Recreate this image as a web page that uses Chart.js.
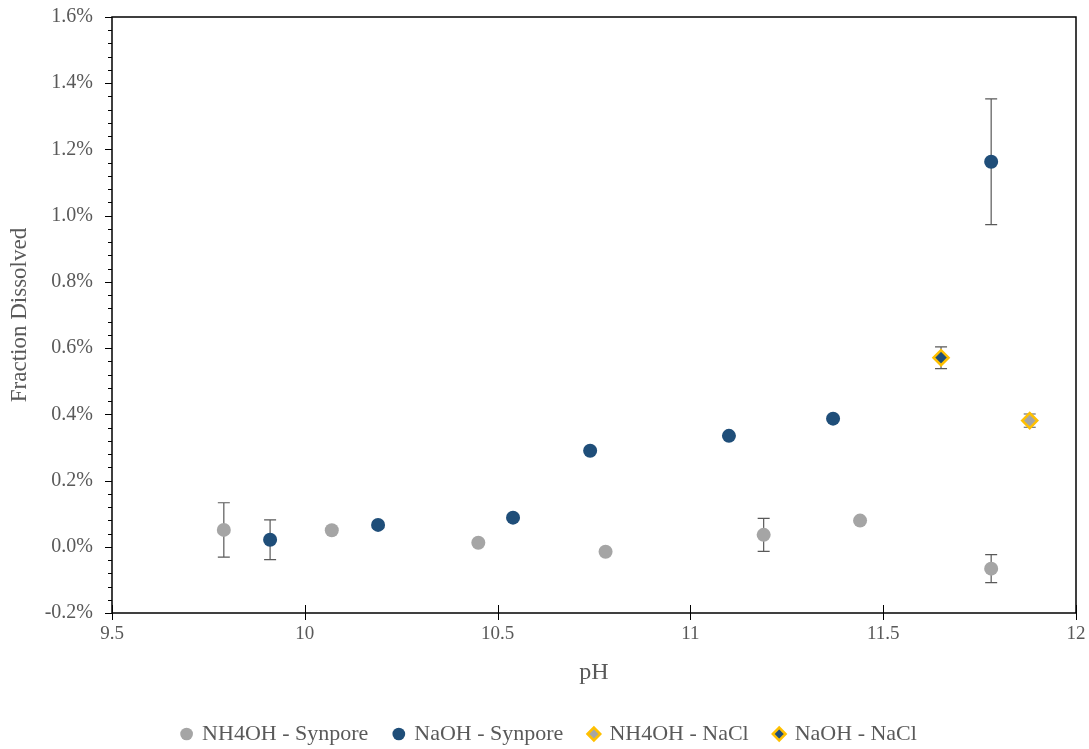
<!DOCTYPE html>
<html>
<head>
<meta charset="utf-8">
<script src="https://cdn.jsdelivr.net/npm/chart.js@4.4.1/dist/chart.umd.min.js"></script>
<style>
  html, body { margin: 0; padding: 0; background: #ffffff; }
  #wrap { width: 1089px; height: 749px; }
</style>
</head>
<body>
<div id="wrap"><canvas id="c" width="1089" height="749"></canvas></div>
<script>
// pH and fraction dissolved (in %) with ± error, per solution / substrate
const nh4ohSynporePH   = [9.79, 10.07, 10.45, 10.78, 11.19, 11.44, 11.78];
const nh4ohSynporeVal  = [0.051, 0.050, 0.012, -0.015, 0.036, 0.079, -0.066];
const nh4ohSynporeErr  = [0.082, 0, 0, 0, 0.050, 0.006, 0.042];

const naohSynporePH    = [9.91, 10.19, 10.54, 10.74, 11.10, 11.37, 11.78];
const naohSynporeVal   = [0.021, 0.066, 0.088, 0.290, 0.335, 0.387, 1.163];
const naohSynporeErr   = [0.060, 0.008, 0.008, 0.005, 0.005, 0.003, 0.190];

const nh4ohNaclPH      = [11.88];
const nh4ohNaclVal     = [0.381];
const nh4ohNaclErr     = [0.020];

const naohNaclPH       = [11.65];
const naohNaclVal      = [0.571];
const naohNaclErr      = [0.033];

const seriesNames = ['NH4OH - Synpore', 'NaOH - Synpore', 'NH4OH - NaCl', 'NaOH - NaCl'];
const yTickValues = [-0.2, 0, 0.2, 0.4, 0.6, 0.8, 1.0, 1.2, 1.4, 1.6];
const xTickValues = [9.5, 10, 10.5, 11, 11.5, 12];

const GRAY = '#A5A5A5';
const BLUE = '#1F4E79';
const GOLD = '#FFC000';
const TEXT = '#595959';
const CLEAR = 'rgba(0,0,0,0)';
const FONT = "'Liberation Serif', 'Times New Roman', serif";

function pts(xs, ys, es) {
  return xs.map((x, i) => ({ x: x, y: ys[i], err: es[i] }));
}

// Draws vertical error bars with caps, behind the markers
const errorBars = {
  id: 'errorBars',
  beforeDatasetsDraw(chart) {
    const ctx = chart.ctx;
    const xs = chart.scales.x, ys = chart.scales.y;
    ctx.save();
    ctx.strokeStyle = '#595959';
    ctx.lineWidth = 1.2;
    chart.data.datasets.forEach(ds => {
      ds.data.forEach(p => {
        if (!p.err) return;
        const px = xs.getPixelForValue(p.x);
        const top = ys.getPixelForValue(p.y + p.err);
        const bot = ys.getPixelForValue(p.y - p.err);
        ctx.beginPath();
        ctx.moveTo(px, top); ctx.lineTo(px, bot);
        ctx.moveTo(px - 6, top); ctx.lineTo(px + 6, top);
        ctx.moveTo(px - 6, bot); ctx.lineTo(px + 6, bot);
        ctx.stroke();
      });
    });
    ctx.restore();
  }
};

// Plot frame plus major/minor tick marks
const frameTicks = {
  id: 'frameTicks',
  afterDraw(chart) {
    const ctx = chart.ctx;
    const a = chart.chartArea;
    const xs = chart.scales.x, ys = chart.scales.y;
    ctx.save();
    ctx.strokeStyle = '#000000';
    ctx.lineWidth = 1.5;
    ctx.strokeRect(a.left, a.top, a.right - a.left, a.bottom - a.top);
    ctx.lineWidth = 1;
    ctx.beginPath();
    // y axis: major ticks outward, minor ticks every 0.04
    for (let v = -0.2; v <= 1.6001; v += 0.04) {
      const py = Math.round(ys.getPixelForValue(v)) + 0.5;
      const isMajor = Math.abs(Math.round(v / 0.2) * 0.2 - v) < 1e-6;
      ctx.moveTo(a.left, py);
      ctx.lineTo(a.left - (isMajor ? 7 : 4), py);
    }
    // x axis: major ticks crossing the axis line
    xTickValues.forEach(v => {
      const px = Math.round(xs.getPixelForValue(v)) + 0.5;
      ctx.moveTo(px, a.bottom - 8);
      ctx.lineTo(px, a.bottom + 7);
    });
    ctx.stroke();
    ctx.restore();
  }
};

// Centre the legend on the full canvas width rather than the padded box
const legendCentre = {
  id: 'legendCentre',
  afterLayout(chart) {
    const lg = chart.legend;
    if (!lg) return;
    const shift = (chart.width - (lg.left + lg.right)) / 2 + 5;
    lg.left += shift;
    lg.right += shift;
  }
};

new Chart(document.getElementById('c'), {
  type: 'scatter',
  data: {
    datasets: [
      {
        label: seriesNames[0],
        data: pts(nh4ohSynporePH, nh4ohSynporeVal, nh4ohSynporeErr),
        pointStyle: 'circle', pointRadius: 7, pointHoverRadius: 7,
        backgroundColor: GRAY, borderColor: GRAY, borderWidth: 0
      },
      {
        label: seriesNames[1],
        data: pts(naohSynporePH, naohSynporeVal, naohSynporeErr),
        pointStyle: 'circle', pointRadius: 7, pointHoverRadius: 7,
        backgroundColor: BLUE, borderColor: BLUE, borderWidth: 0
      },
      {
        label: seriesNames[2],
        data: pts(nh4ohNaclPH, nh4ohNaclVal, nh4ohNaclErr),
        pointStyle: 'rectRot', pointRadius: 7.5, pointHoverRadius: 7.5,
        backgroundColor: GRAY, borderColor: GOLD, borderWidth: 2.5
      },
      {
        label: seriesNames[3],
        data: pts(naohNaclPH, naohNaclVal, naohNaclErr),
        pointStyle: 'rectRot', pointRadius: 7.5, pointHoverRadius: 7.5,
        backgroundColor: BLUE, borderColor: GOLD, borderWidth: 2.5
      }
    ]
  },
  options: {
    responsive: false,
    animation: false,
    layout: { padding: { left: 0, right: 13, top: 17, bottom: -6 } },
    plugins: {
      tooltip: { enabled: false },
      legend: {
        position: 'bottom',
        labels: {
          usePointStyle: true,
          boxWidth: 9, boxHeight: 9,
          padding: 26,
          color: TEXT,
          font: { family: FONT, size: 22 }
        }
      }
    },
    scales: {
      x: {
        type: 'linear',
        min: 9.5, max: 12,
        afterBuildTicks: s => { s.ticks = xTickValues.map(v => ({ value: v })); },
        afterFit: s => { s.height = 84; },
        border: { display: false },
        grid: { display: true, drawOnChartArea: false, drawTicks: true, tickLength: 10, color: CLEAR, tickColor: CLEAR },
        ticks: {
          padding: 0,
          color: TEXT,
          font: { family: FONT, size: 19 },
          callback: v => String(v)
        },
        title: {
          display: true, text: 'pH', color: TEXT,
          font: { family: FONT, size: 24 },
          padding: { top: 0, bottom: 10 }
        }
      },
      y: {
        type: 'linear',
        min: -0.2, max: 1.6,
        afterBuildTicks: s => { s.ticks = yTickValues.map(v => ({ value: v })); },
        afterFit: s => { s.width = 112; },
        border: { display: false },
        grid: { display: true, drawOnChartArea: false, drawTicks: true, tickLength: 19, color: CLEAR, tickColor: CLEAR },
        ticks: {
          padding: 0,
          color: TEXT,
          font: { family: FONT, size: 20 },
          callback: v => v.toFixed(1) + '%'
        },
        title: {
          display: true, text: 'Fraction Dissolved', color: TEXT,
          font: { family: FONT, size: 23 },
          padding: { top: 6, bottom: 6 }
        }
      }
    }
  },
  plugins: [errorBars, frameTicks, legendCentre]
});
</script>
</body>
</html>
